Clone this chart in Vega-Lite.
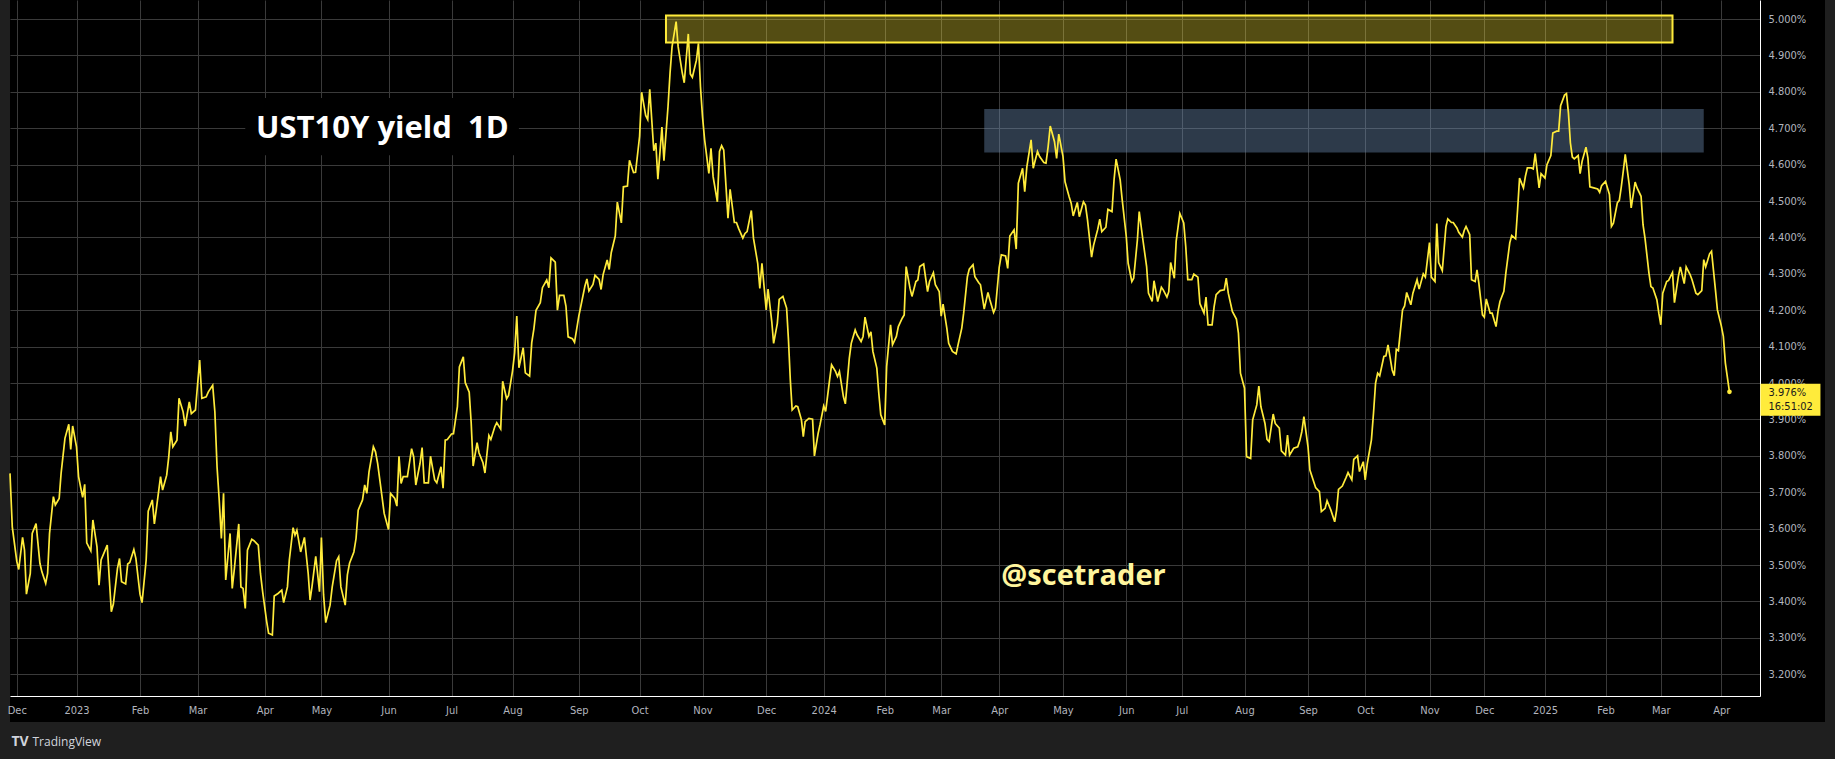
{
  "$schema": "https://vega.github.io/schema/vega-lite/v6.json",
  "width": 1815,
  "height": 722,
  "autosize": {"type": "none"},
  "padding": {"left": 10, "right": 10, "top": 0, "bottom": 37},
  "background": "#1f1f1f",
  "config": {
    "view": {"fill": "#000000", "stroke": null}
  },
  "resolve": {"axis": {"x": "independent", "y": "independent"}},
  "datasets": {
    "yield": [
      {"date":"2022-11-28","y":3.752},{"date":"2022-11-29","y":3.605},{"date":"2022-12-01","y":3.51},{"date":"2022-12-02","y":3.488},{"date":"2022-12-04","y":3.576},{"date":"2022-12-05","y":3.541},{"date":"2022-12-06","y":3.42},{"date":"2022-12-08","y":3.477},{"date":"2022-12-09","y":3.587},{"date":"2022-12-11","y":3.614},{"date":"2022-12-13","y":3.505},{"date":"2022-12-14","y":3.482},{"date":"2022-12-16","y":3.45},{"date":"2022-12-17","y":3.477},{"date":"2022-12-18","y":3.587},{"date":"2022-12-20","y":3.688},{"date":"2022-12-21","y":3.665},{"date":"2022-12-23","y":3.683},{"date":"2022-12-24","y":3.752},{"date":"2022-12-26","y":3.848},{"date":"2022-12-28","y":3.887},{"date":"2022-12-29","y":3.818},{"date":"2022-12-30","y":3.882},
      {"date":"2023-01-01","y":3.825},{"date":"2023-01-02","y":3.743},{"date":"2023-01-04","y":3.686},{"date":"2023-01-05","y":3.722},{"date":"2023-01-06","y":3.561},{"date":"2023-01-08","y":3.539},{"date":"2023-01-09","y":3.624},{"date":"2023-01-11","y":3.55},{"date":"2023-01-12","y":3.445},{"date":"2023-01-13","y":3.514},{"date":"2023-01-15","y":3.541},{"date":"2023-01-16","y":3.555},{"date":"2023-01-18","y":3.372},{"date":"2023-01-19","y":3.393},{"date":"2023-01-21","y":3.491},{"date":"2023-01-22","y":3.518},{"date":"2023-01-23","y":3.454},{"date":"2023-01-25","y":3.448},{"date":"2023-01-26","y":3.503},{"date":"2023-01-27","y":3.507},{"date":"2023-01-29","y":3.543},{"date":"2023-01-30","y":3.518},
      {"date":"2023-02-01","y":3.42},{"date":"2023-02-02","y":3.397},{"date":"2023-02-04","y":3.514},{"date":"2023-02-05","y":3.648},{"date":"2023-02-07","y":3.679},{"date":"2023-02-08","y":3.613},{"date":"2023-02-09","y":3.656},{"date":"2023-02-11","y":3.743},{"date":"2023-02-12","y":3.706},{"date":"2023-02-14","y":3.747},{"date":"2023-02-15","y":3.797},{"date":"2023-02-16","y":3.866},{"date":"2023-02-17","y":3.825},{"date":"2023-02-19","y":3.843},{"date":"2023-02-20","y":3.958},{"date":"2023-02-22","y":3.921},{"date":"2023-02-23","y":3.882},{"date":"2023-02-25","y":3.948},{"date":"2023-02-26","y":3.916},{"date":"2023-02-28","y":3.926},
      {"date":"2023-03-01","y":3.994},{"date":"2023-03-02","y":4.063},{"date":"2023-03-03","y":3.958},{"date":"2023-03-05","y":3.962},{"date":"2023-03-06","y":3.976},{"date":"2023-03-08","y":3.994},{"date":"2023-03-09","y":3.921},{"date":"2023-03-10","y":3.77},{"date":"2023-03-11","y":3.679},{"date":"2023-03-12","y":3.573},{"date":"2023-03-13","y":3.697},{"date":"2023-03-14","y":3.459},{"date":"2023-03-16","y":3.587},{"date":"2023-03-17","y":3.436},{"date":"2023-03-18","y":3.491},{"date":"2023-03-20","y":3.613},{"date":"2023-03-21","y":3.44},{"date":"2023-03-22","y":3.436},{"date":"2023-03-23","y":3.381},{"date":"2023-03-24","y":3.541},{"date":"2023-03-26","y":3.571},{"date":"2023-03-27","y":3.567},{"date":"2023-03-29","y":3.555},{"date":"2023-03-30","y":3.477},{"date":"2023-03-31","y":3.427},
      {"date":"2023-04-02","y":3.345},{"date":"2023-04-03","y":3.313},{"date":"2023-04-05","y":3.308},{"date":"2023-04-06","y":3.415},{"date":"2023-04-08","y":3.422},{"date":"2023-04-10","y":3.431},{"date":"2023-04-11","y":3.397},{"date":"2023-04-13","y":3.44},{"date":"2023-04-14","y":3.514},{"date":"2023-04-16","y":3.603},{"date":"2023-04-17","y":3.582},{"date":"2023-04-18","y":3.596},{"date":"2023-04-20","y":3.536},{"date":"2023-04-22","y":3.576},{"date":"2023-04-24","y":3.477},{"date":"2023-04-25","y":3.404},{"date":"2023-04-26","y":3.44},{"date":"2023-04-28","y":3.524},{"date":"2023-04-30","y":3.427},
      {"date":"2023-05-01","y":3.576},{"date":"2023-05-02","y":3.418},{"date":"2023-05-03","y":3.342},{"date":"2023-05-05","y":3.39},{"date":"2023-05-06","y":3.44},{"date":"2023-05-08","y":3.512},{"date":"2023-05-09","y":3.523},{"date":"2023-05-10","y":3.44},{"date":"2023-05-12","y":3.39},{"date":"2023-05-13","y":3.473},{"date":"2023-05-14","y":3.505},{"date":"2023-05-16","y":3.536},{"date":"2023-05-17","y":3.573},{"date":"2023-05-18","y":3.651},{"date":"2023-05-20","y":3.679},{"date":"2023-05-21","y":3.72},{"date":"2023-05-22","y":3.697},{"date":"2023-05-23","y":3.756},{"date":"2023-05-25","y":3.825},{"date":"2023-05-26","y":3.811},{"date":"2023-05-27","y":3.779},{"date":"2023-05-29","y":3.688},{"date":"2023-05-30","y":3.642},
      {"date":"2023-06-01","y":3.598},{"date":"2023-06-02","y":3.697},{"date":"2023-06-04","y":3.683},{"date":"2023-06-05","y":3.662},{"date":"2023-06-06","y":3.799},{"date":"2023-06-07","y":3.724},{"date":"2023-06-08","y":3.743},{"date":"2023-06-10","y":3.743},{"date":"2023-06-12","y":3.82},{"date":"2023-06-13","y":3.797},{"date":"2023-06-14","y":3.72},{"date":"2023-06-16","y":3.779},{"date":"2023-06-17","y":3.823},{"date":"2023-06-18","y":3.726},{"date":"2023-06-20","y":3.726},{"date":"2023-06-21","y":3.799},{"date":"2023-06-23","y":3.734},{"date":"2023-06-24","y":3.726},{"date":"2023-06-26","y":3.77},{"date":"2023-06-27","y":3.711},{"date":"2023-06-28","y":3.843},{"date":"2023-06-29","y":3.845},
      {"date":"2023-07-01","y":3.86},{"date":"2023-07-02","y":3.861},{"date":"2023-07-04","y":3.935},{"date":"2023-07-05","y":4.044},{"date":"2023-07-07","y":4.072},{"date":"2023-07-08","y":4.001},{"date":"2023-07-10","y":3.975},{"date":"2023-07-11","y":3.891},{"date":"2023-07-12","y":3.772},{"date":"2023-07-14","y":3.836},{"date":"2023-07-15","y":3.808},{"date":"2023-07-17","y":3.781},{"date":"2023-07-18","y":3.753},{"date":"2023-07-20","y":3.856},{"date":"2023-07-21","y":3.845},{"date":"2023-07-23","y":3.88},{"date":"2023-07-24","y":3.891},{"date":"2023-07-26","y":3.874},{"date":"2023-07-27","y":4.005},{"date":"2023-07-29","y":3.957},{"date":"2023-07-30","y":3.966},
      {"date":"2023-08-01","y":4.033},{"date":"2023-08-02","y":4.083},{"date":"2023-08-03","y":4.184},{"date":"2023-08-04","y":4.042},{"date":"2023-08-06","y":4.097},{"date":"2023-08-07","y":4.028},{"date":"2023-08-09","y":4.019},{"date":"2023-08-10","y":4.111},{"date":"2023-08-11","y":4.149},{"date":"2023-08-12","y":4.2},{"date":"2023-08-14","y":4.221},{"date":"2023-08-15","y":4.262},{"date":"2023-08-17","y":4.283},{"date":"2023-08-18","y":4.262},{"date":"2023-08-19","y":4.344},{"date":"2023-08-21","y":4.332},{"date":"2023-08-22","y":4.2},{"date":"2023-08-23","y":4.241},{"date":"2023-08-25","y":4.241},{"date":"2023-08-26","y":4.211},{"date":"2023-08-27","y":4.127},{"date":"2023-08-29","y":4.122},{"date":"2023-08-30","y":4.112},
      {"date":"2023-09-01","y":4.184},{"date":"2023-09-02","y":4.211},{"date":"2023-09-04","y":4.266},{"date":"2023-09-05","y":4.286},{"date":"2023-09-06","y":4.253},{"date":"2023-09-08","y":4.271},{"date":"2023-09-09","y":4.296},{"date":"2023-09-11","y":4.285},{"date":"2023-09-12","y":4.257},{"date":"2023-09-13","y":4.298},{"date":"2023-09-15","y":4.338},{"date":"2023-09-16","y":4.312},{"date":"2023-09-17","y":4.358},{"date":"2023-09-19","y":4.404},{"date":"2023-09-20","y":4.497},{"date":"2023-09-22","y":4.44},{"date":"2023-09-23","y":4.539},{"date":"2023-09-25","y":4.541},{"date":"2023-09-26","y":4.612},{"date":"2023-09-28","y":4.578},{"date":"2023-09-29","y":4.579},
      {"date":"2023-10-01","y":4.678},{"date":"2023-10-02","y":4.799},{"date":"2023-10-04","y":4.735},{"date":"2023-10-05","y":4.724},{"date":"2023-10-06","y":4.807},{"date":"2023-10-08","y":4.638},{"date":"2023-10-09","y":4.659},{"date":"2023-10-10","y":4.56},{"date":"2023-10-12","y":4.703},{"date":"2023-10-13","y":4.611},{"date":"2023-10-15","y":4.759},{"date":"2023-10-16","y":4.851},{"date":"2023-10-17","y":4.924},{"date":"2023-10-19","y":4.993},{"date":"2023-10-20","y":4.924},{"date":"2023-10-22","y":4.853},{"date":"2023-10-23","y":4.825},{"date":"2023-10-25","y":4.959},{"date":"2023-10-26","y":4.849},{"date":"2023-10-27","y":4.84},{"date":"2023-10-29","y":4.887},{"date":"2023-10-30","y":4.933},{"date":"2023-10-31","y":4.814},
      {"date":"2023-11-01","y":4.732},{"date":"2023-11-02","y":4.668},{"date":"2023-11-04","y":4.576},{"date":"2023-11-05","y":4.645},{"date":"2023-11-06","y":4.567},{"date":"2023-11-08","y":4.498},{"date":"2023-11-09","y":4.636},{"date":"2023-11-10","y":4.652},{"date":"2023-11-11","y":4.64},{"date":"2023-11-13","y":4.453},{"date":"2023-11-14","y":4.532},{"date":"2023-11-16","y":4.441},{"date":"2023-11-17","y":4.441},{"date":"2023-11-18","y":4.425},{"date":"2023-11-20","y":4.398},{"date":"2023-11-21","y":4.411},{"date":"2023-11-22","y":4.416},{"date":"2023-11-24","y":4.474},{"date":"2023-11-25","y":4.398},{"date":"2023-11-27","y":4.329},{"date":"2023-11-28","y":4.26},{"date":"2023-11-29","y":4.329},
      {"date":"2023-12-01","y":4.201},{"date":"2023-12-02","y":4.258},{"date":"2023-12-04","y":4.169},{"date":"2023-12-05","y":4.109},{"date":"2023-12-07","y":4.164},{"date":"2023-12-08","y":4.23},{"date":"2023-12-10","y":4.238},{"date":"2023-12-12","y":4.206},{"date":"2023-12-13","y":4.119},{"date":"2023-12-14","y":4.009},{"date":"2023-12-15","y":3.926},{"date":"2023-12-17","y":3.937},{"date":"2023-12-18","y":3.935},{"date":"2023-12-20","y":3.899},{"date":"2023-12-21","y":3.853},{"date":"2023-12-22","y":3.894},{"date":"2023-12-24","y":3.903},{"date":"2023-12-26","y":3.901},{"date":"2023-12-27","y":3.8},{"date":"2023-12-29","y":3.862},{"date":"2023-12-30","y":3.885},
      {"date":"2024-01-01","y":3.937},{"date":"2024-01-02","y":3.922},{"date":"2024-01-04","y":4.009},{"date":"2024-01-05","y":4.05},{"date":"2024-01-07","y":4.032},{"date":"2024-01-08","y":4.018},{"date":"2024-01-09","y":4.032},{"date":"2024-01-11","y":3.963},{"date":"2024-01-12","y":3.943},{"date":"2024-01-14","y":4.068},{"date":"2024-01-15","y":4.109},{"date":"2024-01-17","y":4.146},{"date":"2024-01-18","y":4.132},{"date":"2024-01-20","y":4.114},{"date":"2024-01-21","y":4.128},{"date":"2024-01-22","y":4.181},{"date":"2024-01-24","y":4.128},{"date":"2024-01-25","y":4.141},{"date":"2024-01-26","y":4.087},{"date":"2024-01-28","y":4.041},{"date":"2024-01-29","y":3.972},{"date":"2024-01-30","y":3.913},
      {"date":"2024-02-01","y":3.885},{"date":"2024-02-02","y":4.045},{"date":"2024-02-04","y":4.16},{"date":"2024-02-05","y":4.105},{"date":"2024-02-07","y":4.128},{"date":"2024-02-08","y":4.155},{"date":"2024-02-10","y":4.178},{"date":"2024-02-11","y":4.187},{"date":"2024-02-12","y":4.32},{"date":"2024-02-14","y":4.26},{"date":"2024-02-15","y":4.238},{"date":"2024-02-17","y":4.279},{"date":"2024-02-18","y":4.283},{"date":"2024-02-19","y":4.32},{"date":"2024-02-21","y":4.327},{"date":"2024-02-23","y":4.251},{"date":"2024-02-24","y":4.279},{"date":"2024-02-26","y":4.303},{"date":"2024-02-27","y":4.27},{"date":"2024-02-29","y":4.251},
      {"date":"2024-03-01","y":4.184},{"date":"2024-03-02","y":4.217},{"date":"2024-03-04","y":4.151},{"date":"2024-03-05","y":4.109},{"date":"2024-03-07","y":4.087},{"date":"2024-03-09","y":4.08},{"date":"2024-03-10","y":4.105},{"date":"2024-03-12","y":4.151},{"date":"2024-03-13","y":4.192},{"date":"2024-03-15","y":4.292},{"date":"2024-03-16","y":4.313},{"date":"2024-03-18","y":4.325},{"date":"2024-03-19","y":4.292},{"date":"2024-03-21","y":4.276},{"date":"2024-03-22","y":4.27},{"date":"2024-03-24","y":4.203},{"date":"2024-03-26","y":4.249},{"date":"2024-03-27","y":4.229},{"date":"2024-03-29","y":4.194},{"date":"2024-03-30","y":4.206},
      {"date":"2024-04-01","y":4.318},{"date":"2024-04-02","y":4.352},{"date":"2024-04-04","y":4.349},{"date":"2024-04-05","y":4.315},{"date":"2024-04-06","y":4.404},{"date":"2024-04-08","y":4.421},{"date":"2024-04-09","y":4.368},{"date":"2024-04-10","y":4.549},{"date":"2024-04-12","y":4.59},{"date":"2024-04-13","y":4.526},{"date":"2024-04-14","y":4.594},{"date":"2024-04-16","y":4.668},{"date":"2024-04-17","y":4.59},{"date":"2024-04-19","y":4.636},{"date":"2024-04-20","y":4.622},{"date":"2024-04-22","y":4.606},{"date":"2024-04-23","y":4.604},{"date":"2024-04-24","y":4.649},{"date":"2024-04-25","y":4.706},{"date":"2024-04-27","y":4.663},{"date":"2024-04-28","y":4.617},{"date":"2024-04-29","y":4.684},
      {"date":"2024-05-01","y":4.622},{"date":"2024-05-02","y":4.553},{"date":"2024-05-04","y":4.512},{"date":"2024-05-05","y":4.494},{"date":"2024-05-06","y":4.459},{"date":"2024-05-08","y":4.496},{"date":"2024-05-09","y":4.457},{"date":"2024-05-11","y":4.498},{"date":"2024-05-12","y":4.489},{"date":"2024-05-13","y":4.448},{"date":"2024-05-15","y":4.346},{"date":"2024-05-16","y":4.379},{"date":"2024-05-18","y":4.422},{"date":"2024-05-19","y":4.45},{"date":"2024-05-20","y":4.416},{"date":"2024-05-22","y":4.428},{"date":"2024-05-23","y":4.477},{"date":"2024-05-25","y":4.471},{"date":"2024-05-26","y":4.558},{"date":"2024-05-27","y":4.615},{"date":"2024-05-29","y":4.558},{"date":"2024-05-30","y":4.503},
      {"date":"2024-06-01","y":4.402},{"date":"2024-06-02","y":4.329},{"date":"2024-06-04","y":4.279},{"date":"2024-06-05","y":4.288},{"date":"2024-06-07","y":4.393},{"date":"2024-06-08","y":4.471},{"date":"2024-06-10","y":4.393},{"date":"2024-06-12","y":4.32},{"date":"2024-06-13","y":4.247},{"date":"2024-06-15","y":4.224},{"date":"2024-06-16","y":4.281},{"date":"2024-06-18","y":4.224},{"date":"2024-06-20","y":4.263},{"date":"2024-06-21","y":4.256},{"date":"2024-06-23","y":4.236},{"date":"2024-06-24","y":4.251},{"date":"2024-06-25","y":4.331},{"date":"2024-06-27","y":4.288},{"date":"2024-06-28","y":4.389},{"date":"2024-06-30","y":4.466},
      {"date":"2024-07-02","y":4.44},{"date":"2024-07-03","y":4.375},{"date":"2024-07-04","y":4.284},{"date":"2024-07-06","y":4.284},{"date":"2024-07-07","y":4.299},{"date":"2024-07-09","y":4.291},{"date":"2024-07-10","y":4.218},{"date":"2024-07-12","y":4.192},{"date":"2024-07-13","y":4.236},{"date":"2024-07-14","y":4.16},{"date":"2024-07-16","y":4.16},{"date":"2024-07-17","y":4.21},{"date":"2024-07-18","y":4.243},{"date":"2024-07-20","y":4.254},{"date":"2024-07-22","y":4.256},{"date":"2024-07-23","y":4.288},{"date":"2024-07-24","y":4.247},{"date":"2024-07-26","y":4.197},{"date":"2024-07-28","y":4.176},{"date":"2024-07-29","y":4.137},{"date":"2024-07-30","y":4.027},
      {"date":"2024-08-01","y":3.986},{"date":"2024-08-02","y":3.798},{"date":"2024-08-04","y":3.793},{"date":"2024-08-05","y":3.899},{"date":"2024-08-07","y":3.94},{"date":"2024-08-08","y":3.992},{"date":"2024-08-09","y":3.935},{"date":"2024-08-11","y":3.889},{"date":"2024-08-12","y":3.845},{"date":"2024-08-13","y":3.839},{"date":"2024-08-15","y":3.915},{"date":"2024-08-16","y":3.889},{"date":"2024-08-18","y":3.876},{"date":"2024-08-19","y":3.814},{"date":"2024-08-21","y":3.802},{"date":"2024-08-22","y":3.857},{"date":"2024-08-23","y":3.802},{"date":"2024-08-25","y":3.821},{"date":"2024-08-27","y":3.825},{"date":"2024-08-28","y":3.842},{"date":"2024-08-29","y":3.867},{"date":"2024-08-30","y":3.908},
      {"date":"2024-09-01","y":3.825},{"date":"2024-09-02","y":3.761},{"date":"2024-09-04","y":3.729},{"date":"2024-09-05","y":3.713},{"date":"2024-09-07","y":3.702},{"date":"2024-09-08","y":3.647},{"date":"2024-09-10","y":3.656},{"date":"2024-09-11","y":3.677},{"date":"2024-09-13","y":3.651},{"date":"2024-09-15","y":3.619},{"date":"2024-09-16","y":3.651},{"date":"2024-09-17","y":3.708},{"date":"2024-09-19","y":3.717},{"date":"2024-09-21","y":3.741},{"date":"2024-09-22","y":3.754},{"date":"2024-09-24","y":3.734},{"date":"2024-09-25","y":3.79},{"date":"2024-09-27","y":3.8},{"date":"2024-09-28","y":3.757},{"date":"2024-09-30","y":3.784},
      {"date":"2024-10-01","y":3.734},{"date":"2024-10-02","y":3.779},{"date":"2024-10-04","y":3.844},{"date":"2024-10-05","y":3.917},{"date":"2024-10-06","y":4.0},{"date":"2024-10-07","y":4.027},{"date":"2024-10-08","y":4.02},{"date":"2024-10-10","y":4.073},{"date":"2024-10-11","y":4.075},{"date":"2024-10-12","y":4.105},{"date":"2024-10-14","y":4.036},{"date":"2024-10-15","y":4.02},{"date":"2024-10-16","y":4.093},{"date":"2024-10-17","y":4.089},{"date":"2024-10-19","y":4.201},{"date":"2024-10-20","y":4.212},{"date":"2024-10-21","y":4.249},{"date":"2024-10-23","y":4.215},{"date":"2024-10-24","y":4.247},{"date":"2024-10-26","y":4.284},{"date":"2024-10-27","y":4.258},{"date":"2024-10-29","y":4.3},{"date":"2024-10-30","y":4.291},
      {"date":"2024-11-01","y":4.386},{"date":"2024-11-02","y":4.291},{"date":"2024-11-04","y":4.279},{"date":"2024-11-05","y":4.438},{"date":"2024-11-06","y":4.331},{"date":"2024-11-08","y":4.309},{"date":"2024-11-10","y":4.43},{"date":"2024-11-11","y":4.451},{"date":"2024-11-13","y":4.441},{"date":"2024-11-14","y":4.441},{"date":"2024-11-16","y":4.426},{"date":"2024-11-17","y":4.414},{"date":"2024-11-19","y":4.401},{"date":"2024-11-20","y":4.419},{"date":"2024-11-21","y":4.43},{"date":"2024-11-23","y":4.408},{"date":"2024-11-24","y":4.284},{"date":"2024-11-26","y":4.279},{"date":"2024-11-27","y":4.311},{"date":"2024-11-28","y":4.275},{"date":"2024-11-30","y":4.187},
      {"date":"2024-12-01","y":4.181},{"date":"2024-12-02","y":4.231},{"date":"2024-12-04","y":4.192},{"date":"2024-12-05","y":4.192},{"date":"2024-12-07","y":4.155},{"date":"2024-12-08","y":4.197},{"date":"2024-12-09","y":4.224},{"date":"2024-12-11","y":4.252},{"date":"2024-12-12","y":4.302},{"date":"2024-12-14","y":4.385},{"date":"2024-12-15","y":4.405},{"date":"2024-12-17","y":4.396},{"date":"2024-12-18","y":4.476},{"date":"2024-12-19","y":4.563},{"date":"2024-12-21","y":4.536},{"date":"2024-12-22","y":4.568},{"date":"2024-12-23","y":4.591},{"date":"2024-12-25","y":4.591},{"date":"2024-12-26","y":4.588},{"date":"2024-12-27","y":4.63},{"date":"2024-12-29","y":4.536},{"date":"2024-12-30","y":4.575},
      {"date":"2025-01-01","y":4.563},{"date":"2025-01-02","y":4.6},{"date":"2025-01-04","y":4.625},{"date":"2025-01-05","y":4.687},{"date":"2025-01-07","y":4.692},{"date":"2025-01-08","y":4.692},{"date":"2025-01-09","y":4.762},{"date":"2025-01-11","y":4.791},{"date":"2025-01-12","y":4.795},{"date":"2025-01-13","y":4.742},{"date":"2025-01-14","y":4.66},{"date":"2025-01-15","y":4.621},{"date":"2025-01-16","y":4.616},{"date":"2025-01-18","y":4.625},{"date":"2025-01-19","y":4.575},{"date":"2025-01-20","y":4.609},{"date":"2025-01-22","y":4.648},{"date":"2025-01-23","y":4.618},{"date":"2025-01-24","y":4.539},{"date":"2025-01-26","y":4.536},{"date":"2025-01-28","y":4.533},{"date":"2025-01-29","y":4.524},{"date":"2025-01-30","y":4.542},
      {"date":"2025-02-01","y":4.554},{"date":"2025-02-03","y":4.518},{"date":"2025-02-04","y":4.43},{"date":"2025-02-05","y":4.439},{"date":"2025-02-07","y":4.495},{"date":"2025-02-08","y":4.502},{"date":"2025-02-09","y":4.539},{"date":"2025-02-10","y":4.582},{"date":"2025-02-11","y":4.628},{"date":"2025-02-13","y":4.545},{"date":"2025-02-14","y":4.481},{"date":"2025-02-16","y":4.552},{"date":"2025-02-17","y":4.536},{"date":"2025-02-19","y":4.513},{"date":"2025-02-20","y":4.435},{"date":"2025-02-21","y":4.398},{"date":"2025-02-23","y":4.302},{"date":"2025-02-24","y":4.265},{"date":"2025-02-25","y":4.261},{"date":"2025-02-27","y":4.229},{"date":"2025-02-28","y":4.192},
      {"date":"2025-03-01","y":4.16},{"date":"2025-03-02","y":4.247},{"date":"2025-03-04","y":4.279},{"date":"2025-03-05","y":4.282},{"date":"2025-03-07","y":4.304},{"date":"2025-03-08","y":4.221},{"date":"2025-03-10","y":4.293},{"date":"2025-03-11","y":4.319},{"date":"2025-03-13","y":4.273},{"date":"2025-03-14","y":4.319},{"date":"2025-03-16","y":4.298},{"date":"2025-03-17","y":4.284},{"date":"2025-03-19","y":4.247},{"date":"2025-03-20","y":4.243},{"date":"2025-03-22","y":4.254},{"date":"2025-03-23","y":4.339},{"date":"2025-03-24","y":4.319},{"date":"2025-03-26","y":4.355},{"date":"2025-03-27","y":4.362},{"date":"2025-03-29","y":4.256},{"date":"2025-03-30","y":4.201},
      {"date":"2025-04-01","y":4.157},{"date":"2025-04-02","y":4.128},{"date":"2025-04-03","y":4.055},{"date":"2025-04-05","y":3.976}
    ],
    "last": [{"date":"2025-04-05","y":3.976,"price":"3.976%","time":"16:51:02"}]
  },
  "encoding": {
    "x": {
      "field": "date", "type": "temporal", "title": null, "axis": null,
      "scale": {
        "type": "utc", "nice": false,
        "domain": [{"year":2022,"month":11,"date":28,"utc":true}, {"year":2025,"month":4,"date":20,"utc":true}],
        "domainRaw": {"expr": "[utc(2022,10,28), utc(2022,11,1), utc(2023,0,1), utc(2023,1,1), utc(2023,2,1), utc(2023,3,1), utc(2023,4,1), utc(2023,5,1), utc(2023,6,1), utc(2023,7,1), utc(2023,8,1), utc(2023,9,1), utc(2023,10,1), utc(2023,11,1), utc(2024,0,1), utc(2024,1,1), utc(2024,2,1), utc(2024,3,1), utc(2024,4,1), utc(2024,5,1), utc(2024,6,1), utc(2024,7,1), utc(2024,8,1), utc(2024,9,1), utc(2024,10,1), utc(2024,11,1), utc(2025,0,1), utc(2025,1,1), utc(2025,2,1), utc(2025,3,1), utc(2025,3,20)]"},
        "range": [0, 6.8, 66.5, 130, 187.5, 254.8, 311.4, 378.5, 441.5, 502.5, 568.8, 629.6, 692.5, 756.2, 813.7, 874.7, 931.2, 989.2, 1053, 1116.3, 1171.7, 1234.5, 1298, 1355.2, 1419.5, 1474.3, 1535, 1595.5, 1650.8, 1711.3, 1750]
      }
    },
    "y": {
      "field": "y", "type": "quantitative", "title": null, "axis": null,
      "scale": {"domain": [3.1404, 5.0522], "range": [696, 0], "nice": false, "zero": false}
    }
  },
  "layer": [
    {
      "data": {"values": [{"date": "2023-03-23", "date2": "2023-08-04", "y": 4.626, "y2": 4.783}]},
      "mark": {"type": "rect", "fill": "#000000"},
      "encoding": {"x2": {"field": "date2"}, "y2": {"field": "y2"}}
    },
    {
      "data": {"values": [{"date": "2023-03-28", "y": 4.673, "text": "UST10Y yield \u00a01D"}]},
      "mark": {"type": "text", "align": "left", "baseline": "alphabetic", "font": "Open Sans", "fontWeight": "bold", "fontSize": 31, "fill": "#ffffff"},
      "encoding": {"text": {"field": "text"}}
    },
    {
      "data": {"values": [{"date": "2023-10-14", "date2": "2025-03-07", "y": 4.9354, "y2": 5.0096}]},
      "mark": {"type": "rect", "fill": "#ffeb3b", "fillOpacity": 0.33, "stroke": "#ffeb3b", "strokeWidth": 2},
      "encoding": {"x2": {"field": "date2"}, "y2": {"field": "y2"}}
    },
    {
      "data": {"values": [{"date": "2024-03-24", "date2": "2025-03-23", "y": 4.6332, "y2": 4.7527}]},
      "mark": {"type": "rect", "fill": "#7090b8", "fillOpacity": 0.4},
      "encoding": {"x2": {"field": "date2"}, "y2": {"field": "y2"}}
    },
    {
      "data": {"name": "yield"},
      "mark": {"type": "line", "stroke": "#ffeb3b", "strokeWidth": 1.7, "interpolate": "linear"},
      "encoding": {
        "x": {
          "field": "date", "type": "temporal", "title": null,
          "axis": {
            "orient": "top", "grid": true, "gridColor": "#3a3a3a", "gridWidth": 1,
            "labels": false, "ticks": false, "domain": false,
            "tickCount": {"interval": "month", "step": 1}
          }
        },
        "y": {
          "field": "y", "type": "quantitative",
          "axis": {
            "orient": "left", "grid": true, "gridColor": "#3a3a3a", "gridWidth": 1,
            "labels": false, "ticks": false, "domain": false,
            "values": [3.2, 3.3, 3.4, 3.5, 3.6, 3.7, 3.8, 3.9, 4.0, 4.1, 4.2, 4.3, 4.4, 4.5, 4.6, 4.7, 4.8, 4.9, 5.0],
            "title": "TV", "titleAngle": 0, "titleAnchor": null, "titleAlign": "left", "titleBaseline": "alphabetic",
            "titleX": 1, "titleY": 745, "titleFont": "Open Sans", "titleFontWeight": "bold", "titleFontSize": 14, "titleColor": "#d1d4dc"
          }
        }
      }
    },
    {
      "data": {"name": "last"},
      "mark": {"type": "point", "filled": true, "fill": "#ffeb3b", "size": 22, "opacity": 1, "strokeWidth": 0},
      "encoding": {
        "x": {
          "field": "date", "type": "temporal",
          "axis": {
            "orient": "bottom", "offset": -26, "grid": false,
            "ticks": false, "domain": true, "domainColor": "#ffffff", "domainWidth": 1,
            "tickCount": {"interval": "month", "step": 1},
            "labelExpr": "utcmonth(datum.value) === 0 ? utcFormat(datum.value, '%Y') : utcFormat(datum.value, '%b')",
            "labelColor": "#b2b5be", "labelFont": "Liberation Sans Narrow, DejaVu Sans Condensed, sans-serif", "labelFontSize": 11,
            "labelPadding": 8, "labelFlush": false, "labelOverlap": false,
            "title": "TradingView", "titleAnchor": "start", "titleAlign": "left", "titleBaseline": "alphabetic",
            "titleX": 22, "titleY": 49, "titleFont": "Open Sans", "titleFontWeight": "normal", "titleFontSize": 12, "titleColor": "#d1d4dc"
          }
        },
        "y": {
          "field": "y", "type": "quantitative", "title": null,
          "axis": {
            "orient": "right", "offset": -65, "grid": false,
            "ticks": false, "domain": true, "domainColor": "#ffffff", "domainWidth": 1,
            "values": [3.2, 3.3, 3.4, 3.5, 3.6, 3.7, 3.8, 3.9, 4.0, 4.1, 4.2, 4.3, 4.4, 4.5, 4.6, 4.7, 4.8, 4.9, 5.0],
            "labelExpr": "format(datum.value, '.3f') + '%'",
            "labelColor": "#b2b5be", "labelFont": "Liberation Sans Narrow, DejaVu Sans Condensed, sans-serif", "labelFontSize": 11,
            "labelPadding": 8, "labelAlign": "left", "labelBaseline": "middle", "labelFlush": false, "labelOverlap": false
          }
        }
      }
    },
    {
      "data": {"values": [{}]},
      "mark": {"type": "rule", "stroke": "#ffffff", "strokeWidth": 1},
      "encoding": {
        "x": {"datum": {"year": 2025, "month": 4, "date": 20, "utc": true}, "type": "temporal"},
        "y": {"datum": 3.1404, "type": "quantitative"},
        "y2": {"datum": 3.069}
      }
    },
    {
      "data": {"values": [{}]},
      "mark": {"type": "rule", "stroke": "#ffffff", "strokeWidth": 1},
      "encoding": {
        "x": {"datum": {"year": 2025, "month": 4, "date": 20, "utc": true}, "type": "temporal"},
        "x2": {"datum": {"year": 2025, "month": 5, "date": 22, "utc": true}},
        "y": {"datum": 3.1404, "type": "quantitative"}
      }
    },
    {
      "data": {"name": "last"},
      "mark": {"type": "point", "shape": "M31,-8H91V24H31Z", "size": 4, "filled": true, "fill": "#ffeb3b", "opacity": 1, "strokeWidth": 0}
    },
    {
      "data": {"name": "last"},
      "mark": {"type": "text", "align": "left", "baseline": "middle", "dx": 39, "dy": 1.5, "font": "Liberation Sans Narrow, DejaVu Sans Condensed, sans-serif", "fontSize": 11, "fill": "#1a1a1a"},
      "encoding": {"text": {"field": "price"}}
    },
    {
      "data": {"name": "last"},
      "mark": {"type": "text", "align": "left", "baseline": "middle", "dx": 39, "dy": 15, "font": "Liberation Sans Narrow, DejaVu Sans Condensed, sans-serif", "fontSize": 11, "fill": "#1a1a1a"},
      "encoding": {"text": {"field": "time"}}
    },
    {
      "data": {"values": [{"date": "2024-04-02", "y": 3.445, "text": "@scetrader"}]},
      "mark": {"type": "text", "align": "left", "baseline": "alphabetic", "font": "Open Sans", "fontWeight": "bold", "fontSize": 29, "fill": "#fff59d"},
      "encoding": {"text": {"field": "text"}}
    }
  ]
}
